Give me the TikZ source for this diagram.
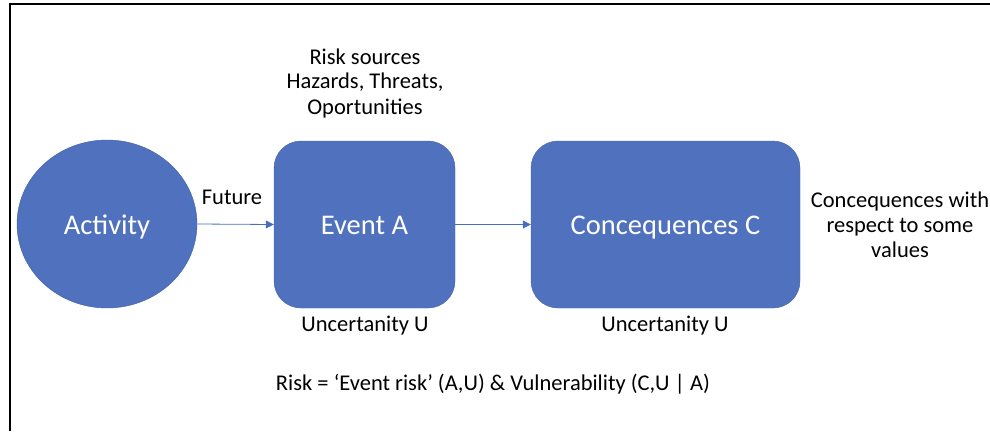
\documentclass[tikz,border=0pt]{standalone}
\usepackage{fontspec}
\setmainfont{Carlito}
\usetikzlibrary{shapes.geometric, positioning, arrows.meta}
\definecolor{boxfill}{RGB}{80,114,190}
\definecolor{boxline}{RGB}{65,96,160}
\definecolor{arrowcolor}{RGB}{72,110,196}

\begin{document}
\begin{tikzpicture}[x=1pt, y=-1pt]
  \tikzset{
    blob/.style={
      ellipse,
      draw=boxline,
      fill=boxfill,
      text=white,
      font=\fontsize{28.5}{32}\selectfont,
      text height=26pt,
      text depth=6pt,
      minimum width=180pt,
      minimum height=168pt
    },
    stage/.style={
      rectangle,
      rounded corners=27pt,
      draw=boxline,
      fill=boxfill,
      text=white,
      font=\fontsize{28.5}{32}\selectfont,
      text height=26pt,
      text depth=6pt,
      minimum height=167pt
    },
    note/.style={
      font=\fontsize{22.5}{25}\selectfont,
      align=center,
      inner sep=0pt
    },
    flow/.style={
      draw=arrowcolor,
      line width=0.8pt,
      -{Triangle[length=8pt,width=8pt]}
    }
  }
  \useasboundingbox (0,0) rectangle (990,431);

  % Frame
  \draw[line width=2pt] (990,4) -- (10,4) -- (10,431);

  % Main shapes
  \node[blob] at (107,224) (activity) {Activity};
  \node[stage, minimum width=181pt] at (364.5,224.5) (event) {Event A};
  \node[stage, minimum width=269pt] at (665.5,224.5) (conseq) {Concequences C};

  % Connectors
  \draw[flow] (activity.east) -- (event.west);
  \draw[flow] (event.east) -- (conseq.west);

  % Labels
  \node[note] at (365,83) (sources) {Risk sources\\Hazards, Threats,\\Oportunities};
  \node[note] at (232,197) (future) {Future};
  \node[note] at (900,225) (values) {Concequences with\\respect to some\\values};
  \node[note] at (365,326) (uncEvent) {Uncertanity U};
  \node[note] at (665,326) (uncConseq) {Uncertanity U};
  \node[note] at (493,384) (risk) {Risk = ‘Event risk’ (A,U) \& Vulnerability (C,U | A)};

\end{tikzpicture}
\end{document}
